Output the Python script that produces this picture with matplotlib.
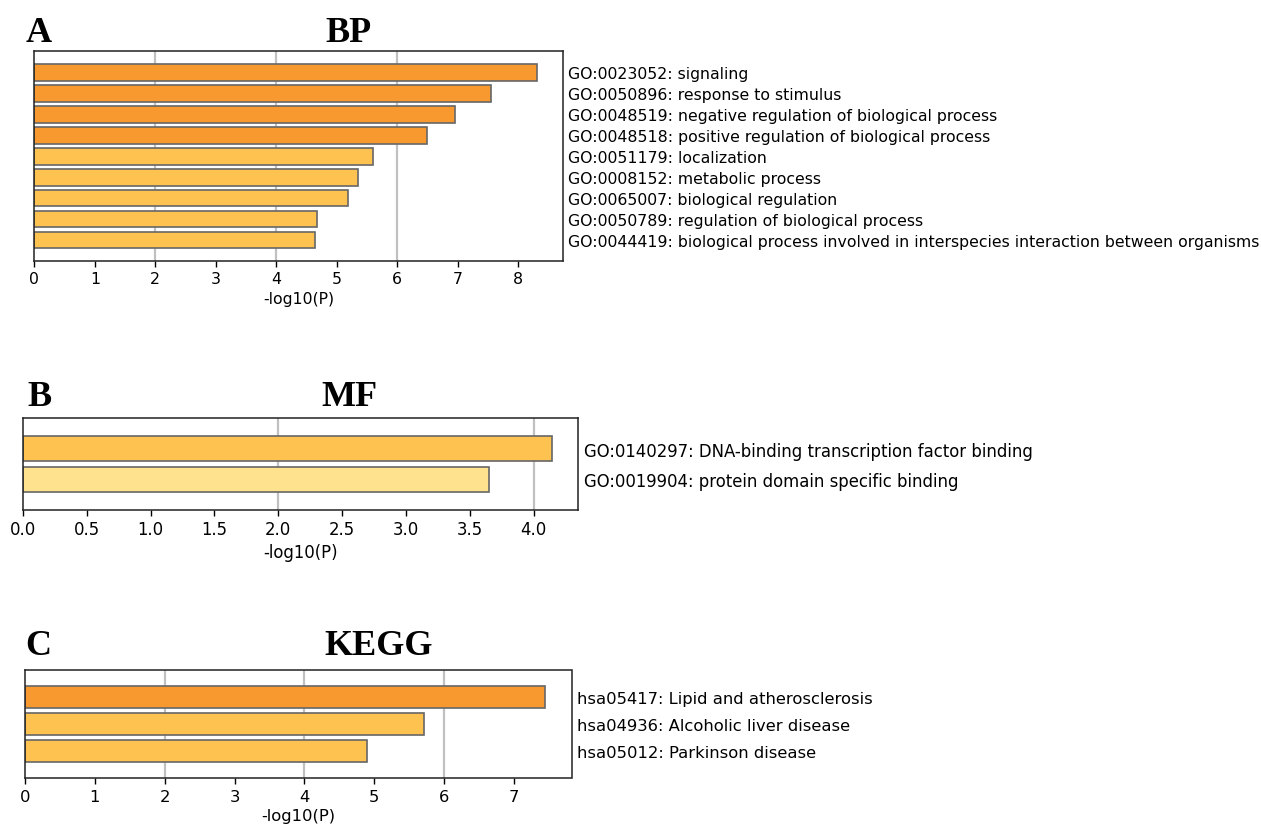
import numpy as np
import matplotlib
matplotlib.use('Agg')
import matplotlib.pyplot as plt
from matplotlib.ticker import MultipleLocator, FormatStrFormatter

# data
bp_terms = ['GO:0023052: signaling',
            'GO:0050896: response to stimulus',
            'GO:0048519: negative regulation of biological process',
            'GO:0048518: positive regulation of biological process',
            'GO:0051179: localization',
            'GO:0008152: metabolic process',
            'GO:0065007: biological regulation',
            'GO:0050789: regulation of biological process',
            'GO:0044419: biological process involved in interspecies interaction between organisms']
bp_vals = [8.32, 7.55, 6.95, 6.50, 5.60, 5.35, 5.19, 4.67, 4.65]

mf_terms = ['GO:0140297: DNA-binding transcription factor binding',
            'GO:0019904: protein domain specific binding']
mf_vals = [4.14, 3.65]

kegg_terms = ['hsa05417: Lipid and atherosclerosis',
              'hsa04936: Alcoholic liver disease',
              'hsa05012: Parkinson disease']
kegg_vals = [7.45, 5.71, 4.89]

W, H = 1261, 829


def bar_color(v):
    if v >= 6:
        return '#F7992E'
    if v >= 4:
        return '#FDC24F'
    return '#FEE28E'


def px_axes(fig, left, right, top, bottom):
    return fig.add_axes([left / W, 1 - bottom / H, (right - left) / W, (bottom - top) / H])


def draw_panel(ax, terms, vals, step, fs, fmt=None):
    n = len(vals)
    y = np.arange(n)
    xmax = max(vals) * 1.05
    for g in [2, 4, 6]:
        if g < xmax:
            ax.axvline(g, color='#c0c0c0', lw=1.6, zorder=0)
    ax.barh(y, vals, height=0.8, color=[bar_color(v) for v in vals],
            edgecolor='#666666', linewidth=1.2, zorder=2)
    ax.set_xlim(0, xmax)
    ax.set_ylim(n, -1)
    ax.xaxis.set_major_locator(MultipleLocator(step))
    if fmt:
        ax.xaxis.set_major_formatter(FormatStrFormatter(fmt))
    ax.yaxis.tick_right()
    ax.set_yticks(y)
    ax.set_yticklabels(terms, fontsize=fs)
    ax.tick_params(axis='y', length=0, pad=4)
    ax.tick_params(axis='x', labelsize=fs, length=4, width=1)
    ax.set_xlabel('-log10(P)', fontsize=fs, labelpad=3)
    for s in ax.spines.values():
        s.set_linewidth(1.1)
        s.set_color('#222222')


fig = plt.figure(figsize=(W / 100, H / 100), dpi=100)

axA = px_axes(fig, 34.4, 562.5, 52.3, 262)
draw_panel(axA, bp_terms, bp_vals, 1, 11.3)
axB = px_axes(fig, 22.9, 578, 419, 511)
draw_panel(axB, mf_terms, mf_vals, 0.5, 11.9, '%.1f')
axC = px_axes(fig, 24.9, 571.5, 670.7, 779.3)
draw_panel(axC, kegg_terms, kegg_vals, 1, 11.8)

# panel letters and titles
serif = dict(family='Liberation Serif', weight='bold', fontsize=26)
for letter, title, lx, tx, base in [('A', 'BP', 26, 348, 41.7),
                                     ('B', 'MF', 27, 349, 406),
                                     ('C', 'KEGG', 25.7, 378.5, 655)]:
    fig.text(lx / W, 1 - base / H, letter, ha='left', va='baseline', **serif)
    fig.text(tx / W, 1 - base / H, title, ha='center', va='baseline', **serif)

fig.savefig('out.png', dpi=100)
